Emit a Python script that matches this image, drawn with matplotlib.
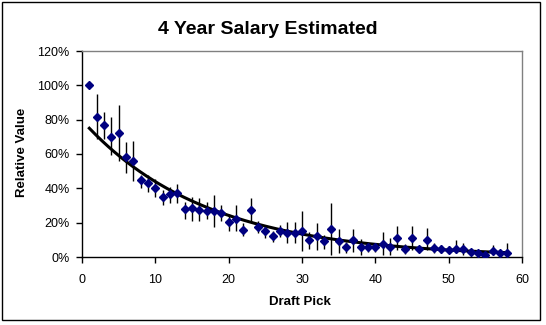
import numpy as np
import matplotlib
matplotlib.use("Agg")
import matplotlib.pyplot as plt
from matplotlib.patches import Rectangle
from matplotlib.ticker import FuncFormatter

plt.rcParams['font.family'] = ['Liberation Sans', 'DejaVu Sans']

picks = list(range(1, 59))
values = [100.0, 81.4, 76.9, 69.7, 72.0, 58.1, 55.7, 44.7, 43.1, 40.2,
          34.8, 36.7, 37.3, 27.8, 28.4, 27.2, 26.8, 26.8, 25.6, 20.4,
          22.3, 15.5, 27.2, 17.3, 15.0, 12.2, 15.0, 14.0, 14.0, 15.0,
          9.7, 12.1, 9.3, 16.1, 9.1, 5.6, 9.7, 5.6, 5.6, 5.8,
          7.4, 5.8, 10.9, 4.5, 10.9, 4.5, 9.7, 5.2, 4.8, 3.9,
          4.5, 4.5, 2.7, 2.1, 1.2, 3.5, 2.1, 2.5]
upper = [100.0, 95.0, 84.7, 81.7, 88.5, 67.2, 67.6, 48.0, 47.8, 45.3,
         39.0, 41.0, 42.5, 32.0, 34.8, 34.4, 32.0, 36.1, 30.1, 25.0,
         30.3, 19.6, 34.2, 21.0, 18.1, 15.3, 18.6, 20.6, 20.6, 26.8,
         14.4, 20.0, 12.8, 31.5, 16.1, 8.9, 16.1, 10.5, 8.3, 8.0,
         14.4, 10.9, 18.1, 7.6, 18.1, 5.6, 16.7, 8.0, 7.0, 6.6,
         9.9, 8.0, 4.5, 4.1, 2.1, 7.0, 4.1, 8.3]
lower = [100.0, 68.5, 68.7, 59.4, 55.9, 48.7, 44.5, 40.4, 37.7, 35.1,
         30.5, 31.6, 31.6, 22.3, 21.1, 20.8, 22.0, 17.3, 21.1, 15.3,
         15.3, 12.4, 20.2, 13.8, 11.2, 8.9, 11.8, 8.0, 8.0, 3.5,
         4.9, 4.1, 4.9, 1.0, 2.1, 2.5, 2.9, 1.4, 3.0, 2.7,
         1.2, 1.2, 4.1, 1.6, 4.1, 3.1, 4.1, 2.1, 2.1, 2.1,
         2.1, 1.2, 1.6, 1.2, 0.2, 1.2, 1.2, 1.2]

# exponential trendline parameters: y = trend_a * exp(-trend_b * x)
trend_a = 79.6
trend_b = 0.0595

x_ticks = [0, 10, 20, 30, 40, 50, 60]
y_ticks = [0, 20, 40, 60, 80, 100, 120]

fig = plt.figure(figsize=(5.46, 3.25), dpi=100)
fig.patch.set_facecolor('white')
fig.patches.append(Rectangle((2/546, 5/325), 538/546, 318/325, transform=fig.transFigure,
                             fill=False, edgecolor='black', linewidth=1.0))

ax = fig.add_axes([82/546, 1 - 257/325, 440/546, 206/325])

v = np.array(values)
yerr = [v - np.array(lower), np.array(upper) - v]
ax.errorbar(picks, values, yerr=yerr, fmt='none', ecolor='black', elinewidth=1.0, capsize=0, zorder=2)

xt = np.linspace(picks[0], picks[-1], 200)
ax.plot(xt, trend_a * np.exp(-trend_b * xt), color='black', linewidth=2.2, zorder=3)

ax.plot(picks, values, linestyle='none', marker='D', markersize=4.5, color='#000080',
        markeredgecolor='#000080', zorder=4)

ax.set_xlim(0, 60)
ax.set_ylim(0, 120)
ax.set_xticks(x_ticks)
ax.set_yticks(y_ticks)
ax.yaxis.set_major_formatter(FuncFormatter(lambda val, pos: f"{int(val)}%"))
ax.tick_params(axis='both', direction='out', length=4, width=1, labelsize=9, colors='black')
ax.tick_params(axis='x', pad=8)
ax.tick_params(axis='y', pad=5)

for s in ['top', 'right']:
    ax.spines[s].set_color('#808080')
    ax.spines[s].set_linewidth(1)
for s in ['left', 'bottom']:
    ax.spines[s].set_color('black')
    ax.spines[s].set_linewidth(1)

fig.text(0.5 * (157 + 378) / 546, 1 - 30/325, "4 Year Salary Estimated", ha='center', va='center',
         fontsize=14, fontweight='bold')
fig.text(300/546, 1 - 302/325, "Draft Pick", ha='center', va='center', fontsize=9.5, fontweight='bold')
fig.text(22/546, 1 - 152/325, "Relative Value", ha='center', va='center', rotation=90,
         fontsize=9.5, fontweight='bold')

fig.savefig("out.png", dpi=100, facecolor='white')
